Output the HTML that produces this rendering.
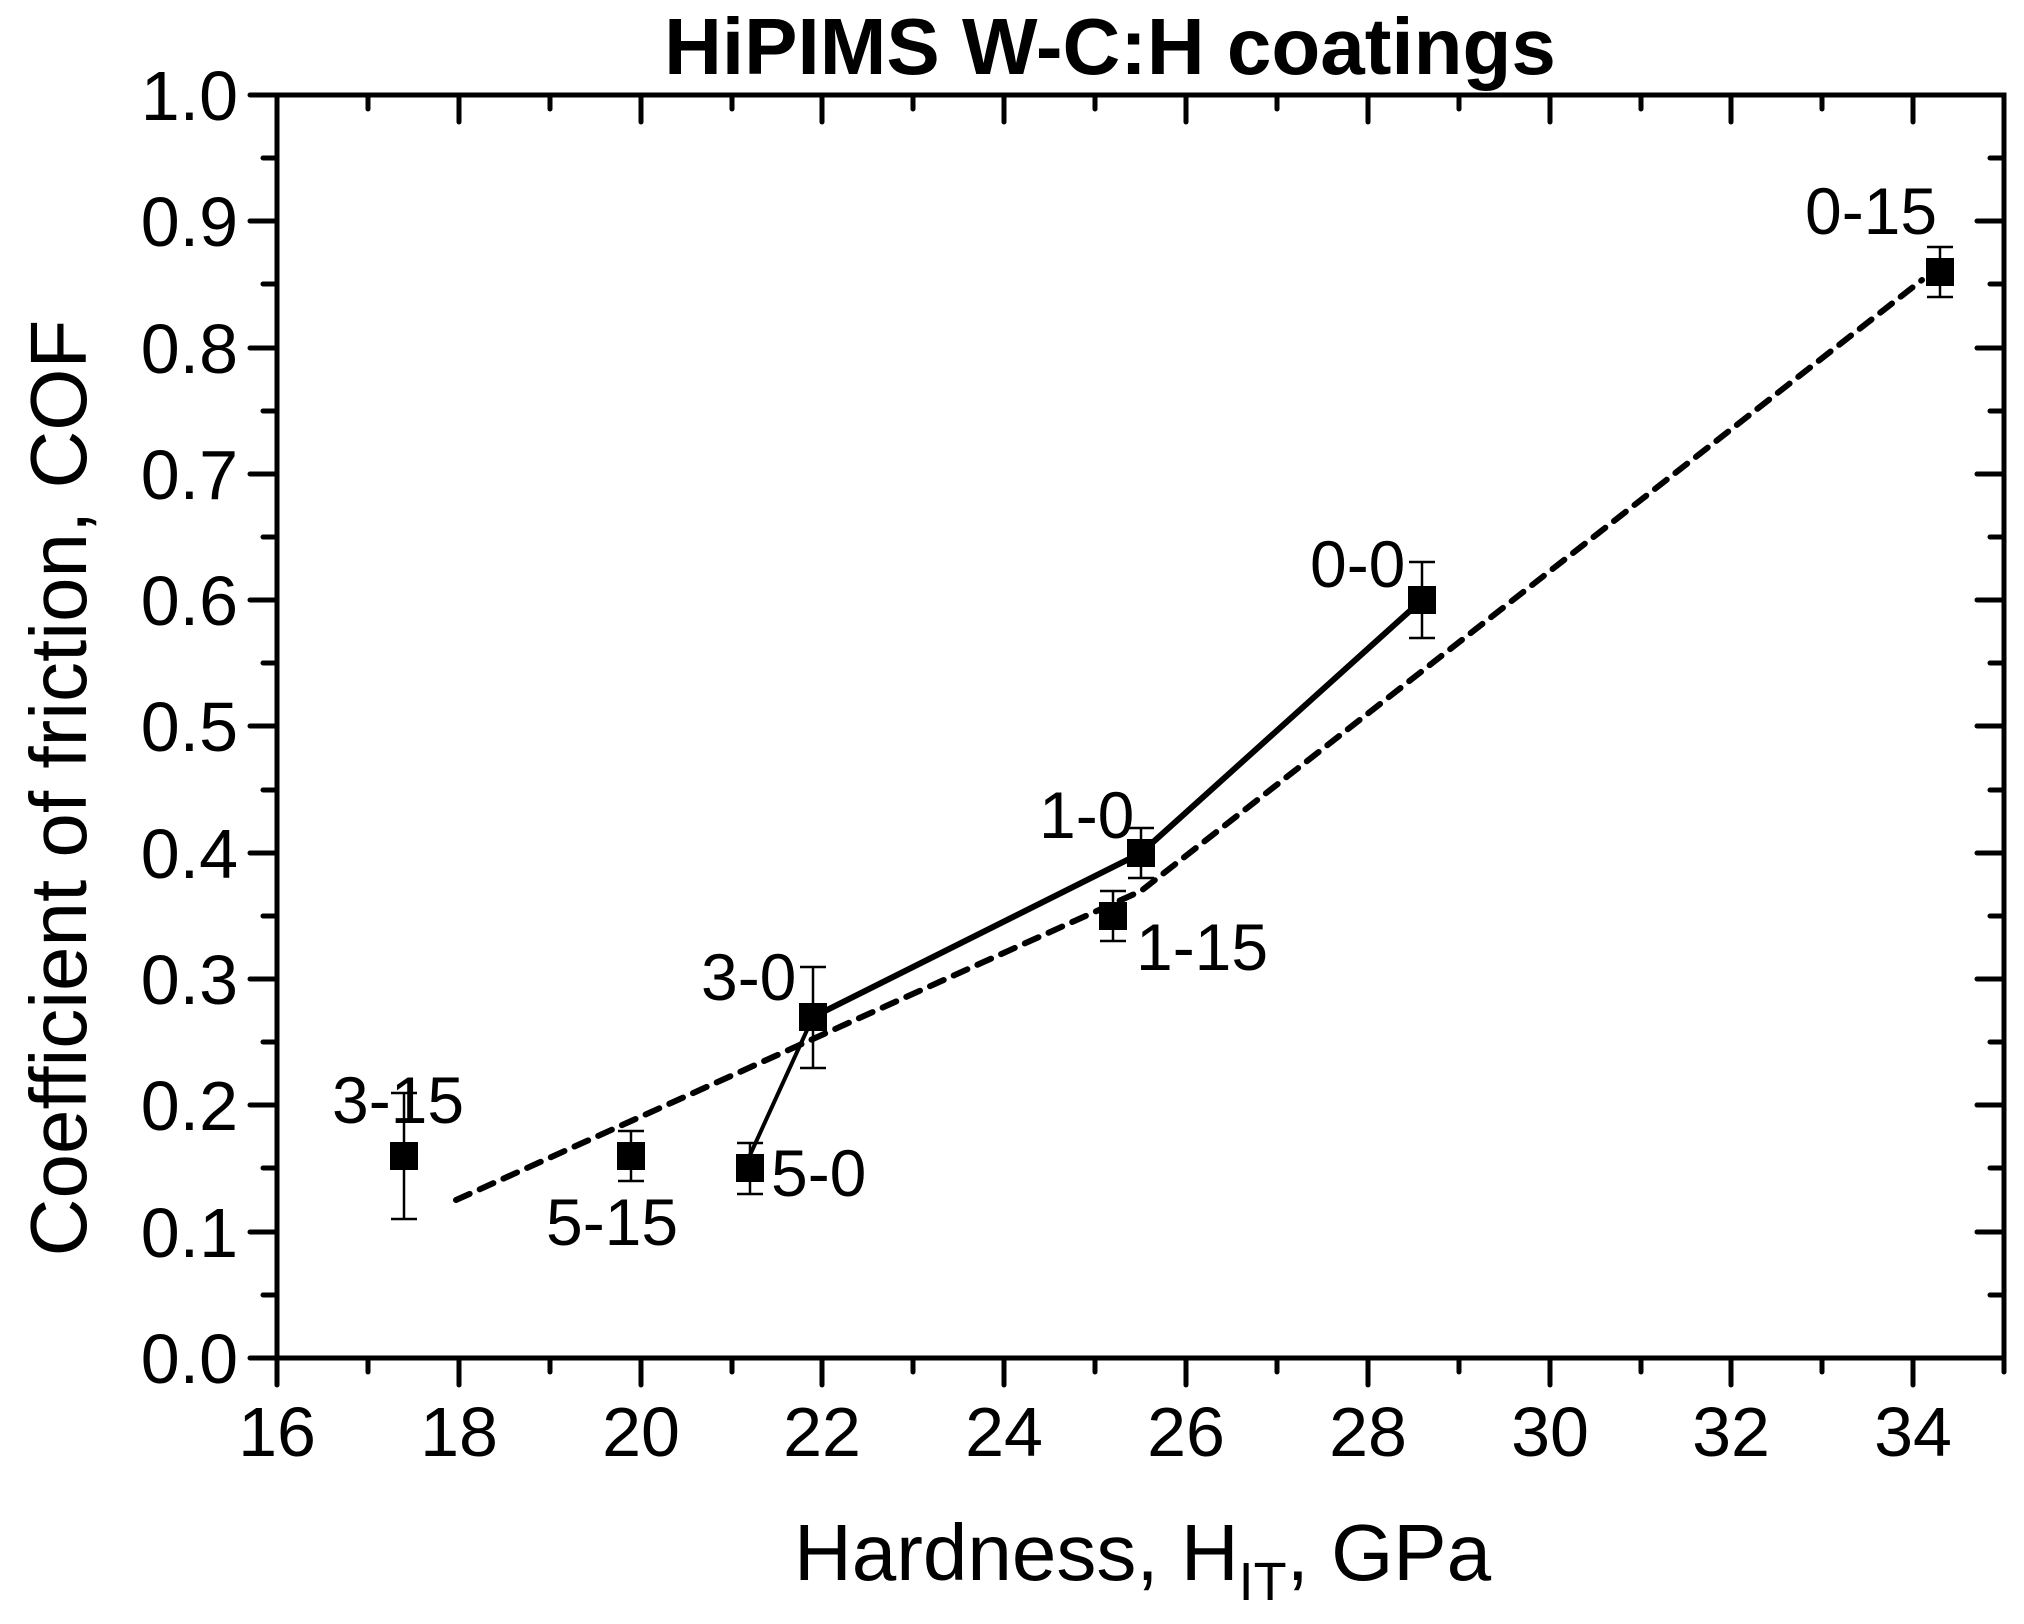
<!DOCTYPE html>
<html><head><meta charset="utf-8"><style>body{margin:0;background:#fff}svg{display:block}</style></head>
<body>
<svg width="2024" height="1624" viewBox="0 0 2024 1624" xmlns="http://www.w3.org/2000/svg" font-family="Liberation Sans, Arial, sans-serif">
<rect width="2024" height="1624" fill="#fff"/>
<g stroke="#000" stroke-width="5" stroke-linecap="round">
<line x1="277" y1="1358" x2="277" y2="1385"/><line x1="368" y1="1358" x2="368" y2="1372"/><line x1="459" y1="1358" x2="459" y2="1385"/><line x1="550" y1="1358" x2="550" y2="1372"/><line x1="641" y1="1358" x2="641" y2="1385"/><line x1="732" y1="1358" x2="732" y2="1372"/><line x1="822" y1="1358" x2="822" y2="1385"/><line x1="913" y1="1358" x2="913" y2="1372"/><line x1="1004" y1="1358" x2="1004" y2="1385"/><line x1="1095" y1="1358" x2="1095" y2="1372"/><line x1="1186" y1="1358" x2="1186" y2="1385"/><line x1="1277" y1="1358" x2="1277" y2="1372"/><line x1="1368" y1="1358" x2="1368" y2="1385"/><line x1="1459" y1="1358" x2="1459" y2="1372"/><line x1="1550" y1="1358" x2="1550" y2="1385"/><line x1="1641" y1="1358" x2="1641" y2="1372"/><line x1="1731" y1="1358" x2="1731" y2="1385"/><line x1="1822" y1="1358" x2="1822" y2="1372"/><line x1="1913" y1="1358" x2="1913" y2="1385"/><line x1="2004" y1="1358" x2="2004" y2="1372"/>
<line x1="459" y1="95" x2="459" y2="122"/><line x1="368" y1="95" x2="368" y2="109"/><line x1="550" y1="95" x2="550" y2="109"/><line x1="641" y1="95" x2="641" y2="122"/><line x1="732" y1="95" x2="732" y2="109"/><line x1="822" y1="95" x2="822" y2="122"/><line x1="913" y1="95" x2="913" y2="109"/><line x1="1004" y1="95" x2="1004" y2="122"/><line x1="1095" y1="95" x2="1095" y2="109"/><line x1="1186" y1="95" x2="1186" y2="122"/><line x1="1277" y1="95" x2="1277" y2="109"/><line x1="1368" y1="95" x2="1368" y2="122"/><line x1="1459" y1="95" x2="1459" y2="109"/><line x1="1550" y1="95" x2="1550" y2="122"/><line x1="1641" y1="95" x2="1641" y2="109"/><line x1="1731" y1="95" x2="1731" y2="122"/><line x1="1822" y1="95" x2="1822" y2="109"/><line x1="1913" y1="95" x2="1913" y2="122"/>
<line x1="250" y1="1358" x2="277" y2="1358"/><line x1="263" y1="1295" x2="277" y2="1295"/><line x1="250" y1="1232" x2="277" y2="1232"/><line x1="263" y1="1168" x2="277" y2="1168"/><line x1="250" y1="1105" x2="277" y2="1105"/><line x1="263" y1="1042" x2="277" y2="1042"/><line x1="250" y1="979" x2="277" y2="979"/><line x1="263" y1="916" x2="277" y2="916"/><line x1="250" y1="853" x2="277" y2="853"/><line x1="263" y1="790" x2="277" y2="790"/><line x1="250" y1="726" x2="277" y2="726"/><line x1="263" y1="663" x2="277" y2="663"/><line x1="250" y1="600" x2="277" y2="600"/><line x1="263" y1="537" x2="277" y2="537"/><line x1="250" y1="474" x2="277" y2="474"/><line x1="263" y1="411" x2="277" y2="411"/><line x1="250" y1="348" x2="277" y2="348"/><line x1="263" y1="284" x2="277" y2="284"/><line x1="250" y1="221" x2="277" y2="221"/><line x1="263" y1="158" x2="277" y2="158"/><line x1="250" y1="95" x2="277" y2="95"/>
<line x1="1990" y1="1295" x2="2004" y2="1295"/><line x1="1977" y1="1232" x2="2004" y2="1232"/><line x1="1990" y1="1168" x2="2004" y2="1168"/><line x1="1977" y1="1105" x2="2004" y2="1105"/><line x1="1990" y1="1042" x2="2004" y2="1042"/><line x1="1977" y1="979" x2="2004" y2="979"/><line x1="1990" y1="916" x2="2004" y2="916"/><line x1="1977" y1="853" x2="2004" y2="853"/><line x1="1990" y1="790" x2="2004" y2="790"/><line x1="1977" y1="726" x2="2004" y2="726"/><line x1="1990" y1="663" x2="2004" y2="663"/><line x1="1977" y1="600" x2="2004" y2="600"/><line x1="1990" y1="537" x2="2004" y2="537"/><line x1="1977" y1="474" x2="2004" y2="474"/><line x1="1990" y1="411" x2="2004" y2="411"/><line x1="1977" y1="348" x2="2004" y2="348"/><line x1="1990" y1="284" x2="2004" y2="284"/><line x1="1977" y1="221" x2="2004" y2="221"/><line x1="1990" y1="158" x2="2004" y2="158"/>
</g>
<rect x="277" y="95" width="1727" height="1263" fill="none" stroke="#000" stroke-width="5"/>
<g font-size="70" fill="#000" text-anchor="middle">
<text x="277" y="1456">16</text><text x="459" y="1456">18</text><text x="641" y="1456">20</text><text x="822" y="1456">22</text><text x="1004" y="1456">24</text><text x="1186" y="1456">26</text><text x="1368" y="1456">28</text><text x="1550" y="1456">30</text><text x="1731" y="1456">32</text><text x="1913" y="1456">34</text>
</g>
<g font-size="70" fill="#000" text-anchor="end">
<text x="238" y="1383">0.0</text><text x="238" y="1257">0.1</text><text x="238" y="1130">0.2</text><text x="238" y="1004">0.3</text><text x="238" y="878">0.4</text><text x="238" y="751">0.5</text><text x="238" y="625">0.6</text><text x="238" y="499">0.7</text><text x="238" y="373">0.8</text><text x="238" y="246">0.9</text><text x="238" y="120">1.0</text>
</g>
<text x="1110" y="74" font-size="80" font-weight="bold" text-anchor="middle">HiPIMS W-C:H coatings</text>
<text x="794" y="1580" font-size="80">Hardness, H<tspan font-size="54" dy="20">IT</tspan><tspan dy="-20">, GPa</tspan></text>
<text transform="translate(86,788) rotate(-90)" font-size="80" text-anchor="middle">Coefficient of friction, COF</text>
<polyline points="456,1200 1141,891 1922,280" fill="none" stroke="#000" stroke-width="6" stroke-dasharray="15,11" stroke-linecap="round"/>
<polyline points="750,1155 813,1017" fill="none" stroke="#000" stroke-width="4"/>
<polyline points="813,1017 1141,853 1422,600" fill="none" stroke="#000" stroke-width="6"/>
<g stroke="#000" stroke-width="2.5">
<line x1="404" y1="1093" x2="404" y2="1219"/><line x1="391" y1="1093" x2="417" y2="1093"/><line x1="391" y1="1219" x2="417" y2="1219"/>
<line x1="631" y1="1131" x2="631" y2="1181"/><line x1="618" y1="1131" x2="644" y2="1131"/><line x1="618" y1="1181" x2="644" y2="1181"/>
<line x1="750" y1="1143" x2="750" y2="1194"/><line x1="737" y1="1143" x2="763" y2="1143"/><line x1="737" y1="1194" x2="763" y2="1194"/>
<line x1="813" y1="967" x2="813" y2="1068"/><line x1="800" y1="967" x2="826" y2="967"/><line x1="800" y1="1068" x2="826" y2="1068"/>
<line x1="1113" y1="891" x2="1113" y2="941"/><line x1="1100" y1="891" x2="1126" y2="891"/><line x1="1100" y1="941" x2="1126" y2="941"/>
<line x1="1141" y1="828" x2="1141" y2="878"/><line x1="1128" y1="828" x2="1154" y2="828"/><line x1="1128" y1="878" x2="1154" y2="878"/>
<line x1="1422" y1="562" x2="1422" y2="638"/><line x1="1409" y1="562" x2="1435" y2="562"/><line x1="1409" y1="638" x2="1435" y2="638"/>
<line x1="1940" y1="247" x2="1940" y2="297"/><line x1="1927" y1="247" x2="1953" y2="247"/><line x1="1927" y1="297" x2="1953" y2="297"/>
</g>
<g fill="#000">
<rect x="390" y="1142" width="28" height="28"/><rect x="617" y="1142" width="28" height="28"/><rect x="736" y="1154" width="28" height="28"/><rect x="799" y="1003" width="28" height="28"/><rect x="1099" y="902" width="28" height="28"/><rect x="1127" y="839" width="28" height="28"/><rect x="1408" y="586" width="28" height="28"/><rect x="1926" y="258" width="28" height="28"/>
</g>
<g font-size="66">
<text x="332" y="1123">3-15</text>
<text x="546" y="1245">5-15</text>
<text x="771" y="1196">5-0</text>
<text x="701" y="1000">3-0</text>
<text x="1136" y="970">1-15</text>
<text x="1039" y="838">1-0</text>
<text x="1310" y="587">0-0</text>
<text x="1805" y="234">0-15</text>
</g>
</svg>
</body></html>
